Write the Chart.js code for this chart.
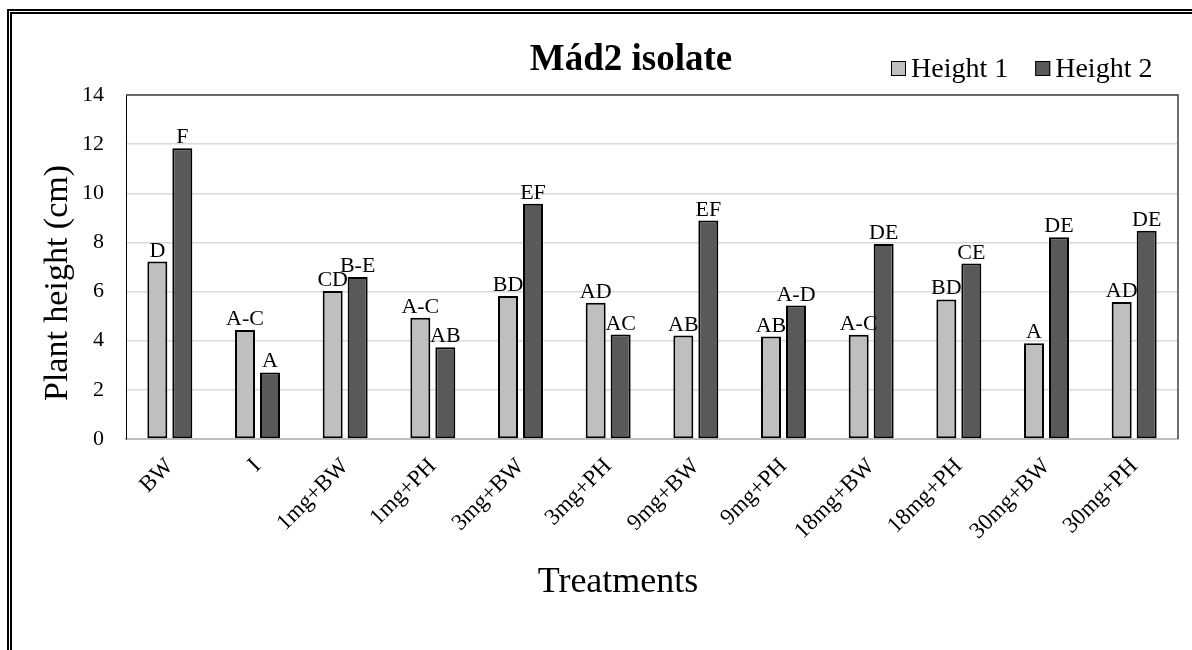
<!DOCTYPE html>
<html><head><meta charset="utf-8">
<script src="https://cdn.jsdelivr.net/npm/chart.js@4.4.1/dist/chart.umd.min.js"></script>
<style>
html,body{margin:0;padding:0;background:#fff;}
#wrap{position:relative;width:1192px;height:650px;overflow:hidden;background:#fff;}
#frame{position:absolute;left:7px;top:9px;width:1300px;height:800px;border-top:5px double #000;border-left:5px double #000;pointer-events:none;}
canvas{position:absolute;left:0;top:0;}
</style></head><body>
<div id="wrap"><canvas id="c" width="1192" height="650"></canvas><div id="frame"></div></div>
<script>
const categories = ['BW','I','1mg+BW','1mg+PH','3mg+BW','3mg+PH','9mg+BW','9mg+PH','18mg+BW','18mg+PH','30mg+BW','30mg+PH'];
const height1 = [7.22,4.44,6.02,4.93,5.82,5.54,4.21,4.17,4.24,5.68,3.90,5.58];
const height2 = [11.83,2.71,6.59,3.73,9.57,4.25,8.89,5.43,7.94,7.14,8.21,8.48];
const letters1 = ['D','A-C','CD','A-C','BD','AD','AB','AB','A-C','BD','A','AD'];
const letters2 = ['F','A','B-E','AB','EF','AC','EF','A-D','DE','CE','DE','DE'];
const yMin = 0, yMax = 14, yStep = 2;
const chartTitle = 'Mád2 isolate';
const yTitle = 'Plant height (cm)';
const xTitle = 'Treatments';

const SERIF = "'Liberation Serif','Times New Roman',serif";
const letterSets = [letters1, letters2];

const decor = {
  id: 'decor',
  afterDraw(chart) {
    const ctx = chart.ctx;
    const a = chart.chartArea;
    ctx.save();
    // plot area frame (top, right)
    ctx.strokeStyle = '#404040';
    ctx.lineWidth = 1.5;
    ctx.beginPath();
    ctx.moveTo(a.left, a.top);
    ctx.lineTo(a.right, a.top);
    ctx.lineTo(a.right, a.bottom);
    ctx.stroke();
    // significance letters
    ctx.fillStyle = '#000';
    ctx.font = '22px ' + SERIF;
    ctx.textAlign = 'center';
    ctx.textBaseline = 'alphabetic';
    chart.data.datasets.forEach((ds, di) => {
      const meta = chart.getDatasetMeta(di);
      meta.data.forEach((bar, i) => {
        ctx.fillText(letterSets[di][i], bar.x, bar.y - 5);
      });
    });
    // title
    ctx.font = 'bold 37px ' + SERIF;
    ctx.fillText(chartTitle, 631, 70);
    // x title
    ctx.font = '36px ' + SERIF;
    ctx.textBaseline = 'middle';
    ctx.fillText(xTitle, 618, 583);
    // y title
    ctx.save();
    ctx.translate(58, 283);
    ctx.rotate(-Math.PI / 2);
    ctx.font = '34px ' + SERIF;
    ctx.fillText(yTitle, 0, 0);
    ctx.restore();
    // legend
    ctx.font = '28px ' + SERIF;
    ctx.textAlign = 'left';
    ctx.textBaseline = 'alphabetic';
    let x = 891;
    chart.data.datasets.forEach((ds) => {
      ctx.fillStyle = ds.backgroundColor;
      ctx.fillRect(x, 61, 15, 15);
      ctx.strokeStyle = '#000';
      ctx.lineWidth = 1;
      ctx.strokeRect(x + 0.5, 61.5, 14, 14);
      ctx.fillStyle = '#000';
      ctx.fillText(ds.label, x + 20, 77);
      x += 20 + ctx.measureText(ds.label).width + 27;
    });
    ctx.restore();
  }
};

new Chart(document.getElementById('c'), {
  type: 'bar',
  data: {
    labels: categories,
    datasets: [
      { label: 'Height 1', data: height1, backgroundColor: '#bfbfbf', borderColor: '#000', borderWidth: 2, borderSkipped: false },
      { label: 'Height 2', data: height2, backgroundColor: '#595959', borderColor: '#000', borderWidth: 2, borderSkipped: false }
    ]
  },
  options: {
    responsive: false,
    animation: false,
    devicePixelRatio: 1,
    barPercentage: 0.8,
    categoryPercentage: 0.57,
    layout: { padding: { top: 95, right: 14, left: 0, bottom: 0 } },
    plugins: { legend: { display: false }, title: { display: false }, tooltip: { enabled: false } },
    scales: {
      x: {
        afterFit: s => { s.height = 211; },
        grid: { display: false, drawTicks: false },
        border: { display: true, color: '#bfbfbf', width: 2 },
        ticks: { autoSkip: false, minRotation: 45, maxRotation: 45, padding: 14, color: '#000', font: { family: SERIF, size: 23 } }
      },
      y: {
        min: yMin, max: yMax,
        afterFit: s => { s.width = 126; },
        grid: { color: '#d9d9d9', lineWidth: 1.5, drawTicks: false },
        border: { display: true, color: '#000', width: 1 },
        ticks: { stepSize: yStep, padding: 22, color: '#000', font: { family: SERIF, size: 22 } }
      }
    }
  },
  plugins: [decor]
});
</script>
</body></html>
